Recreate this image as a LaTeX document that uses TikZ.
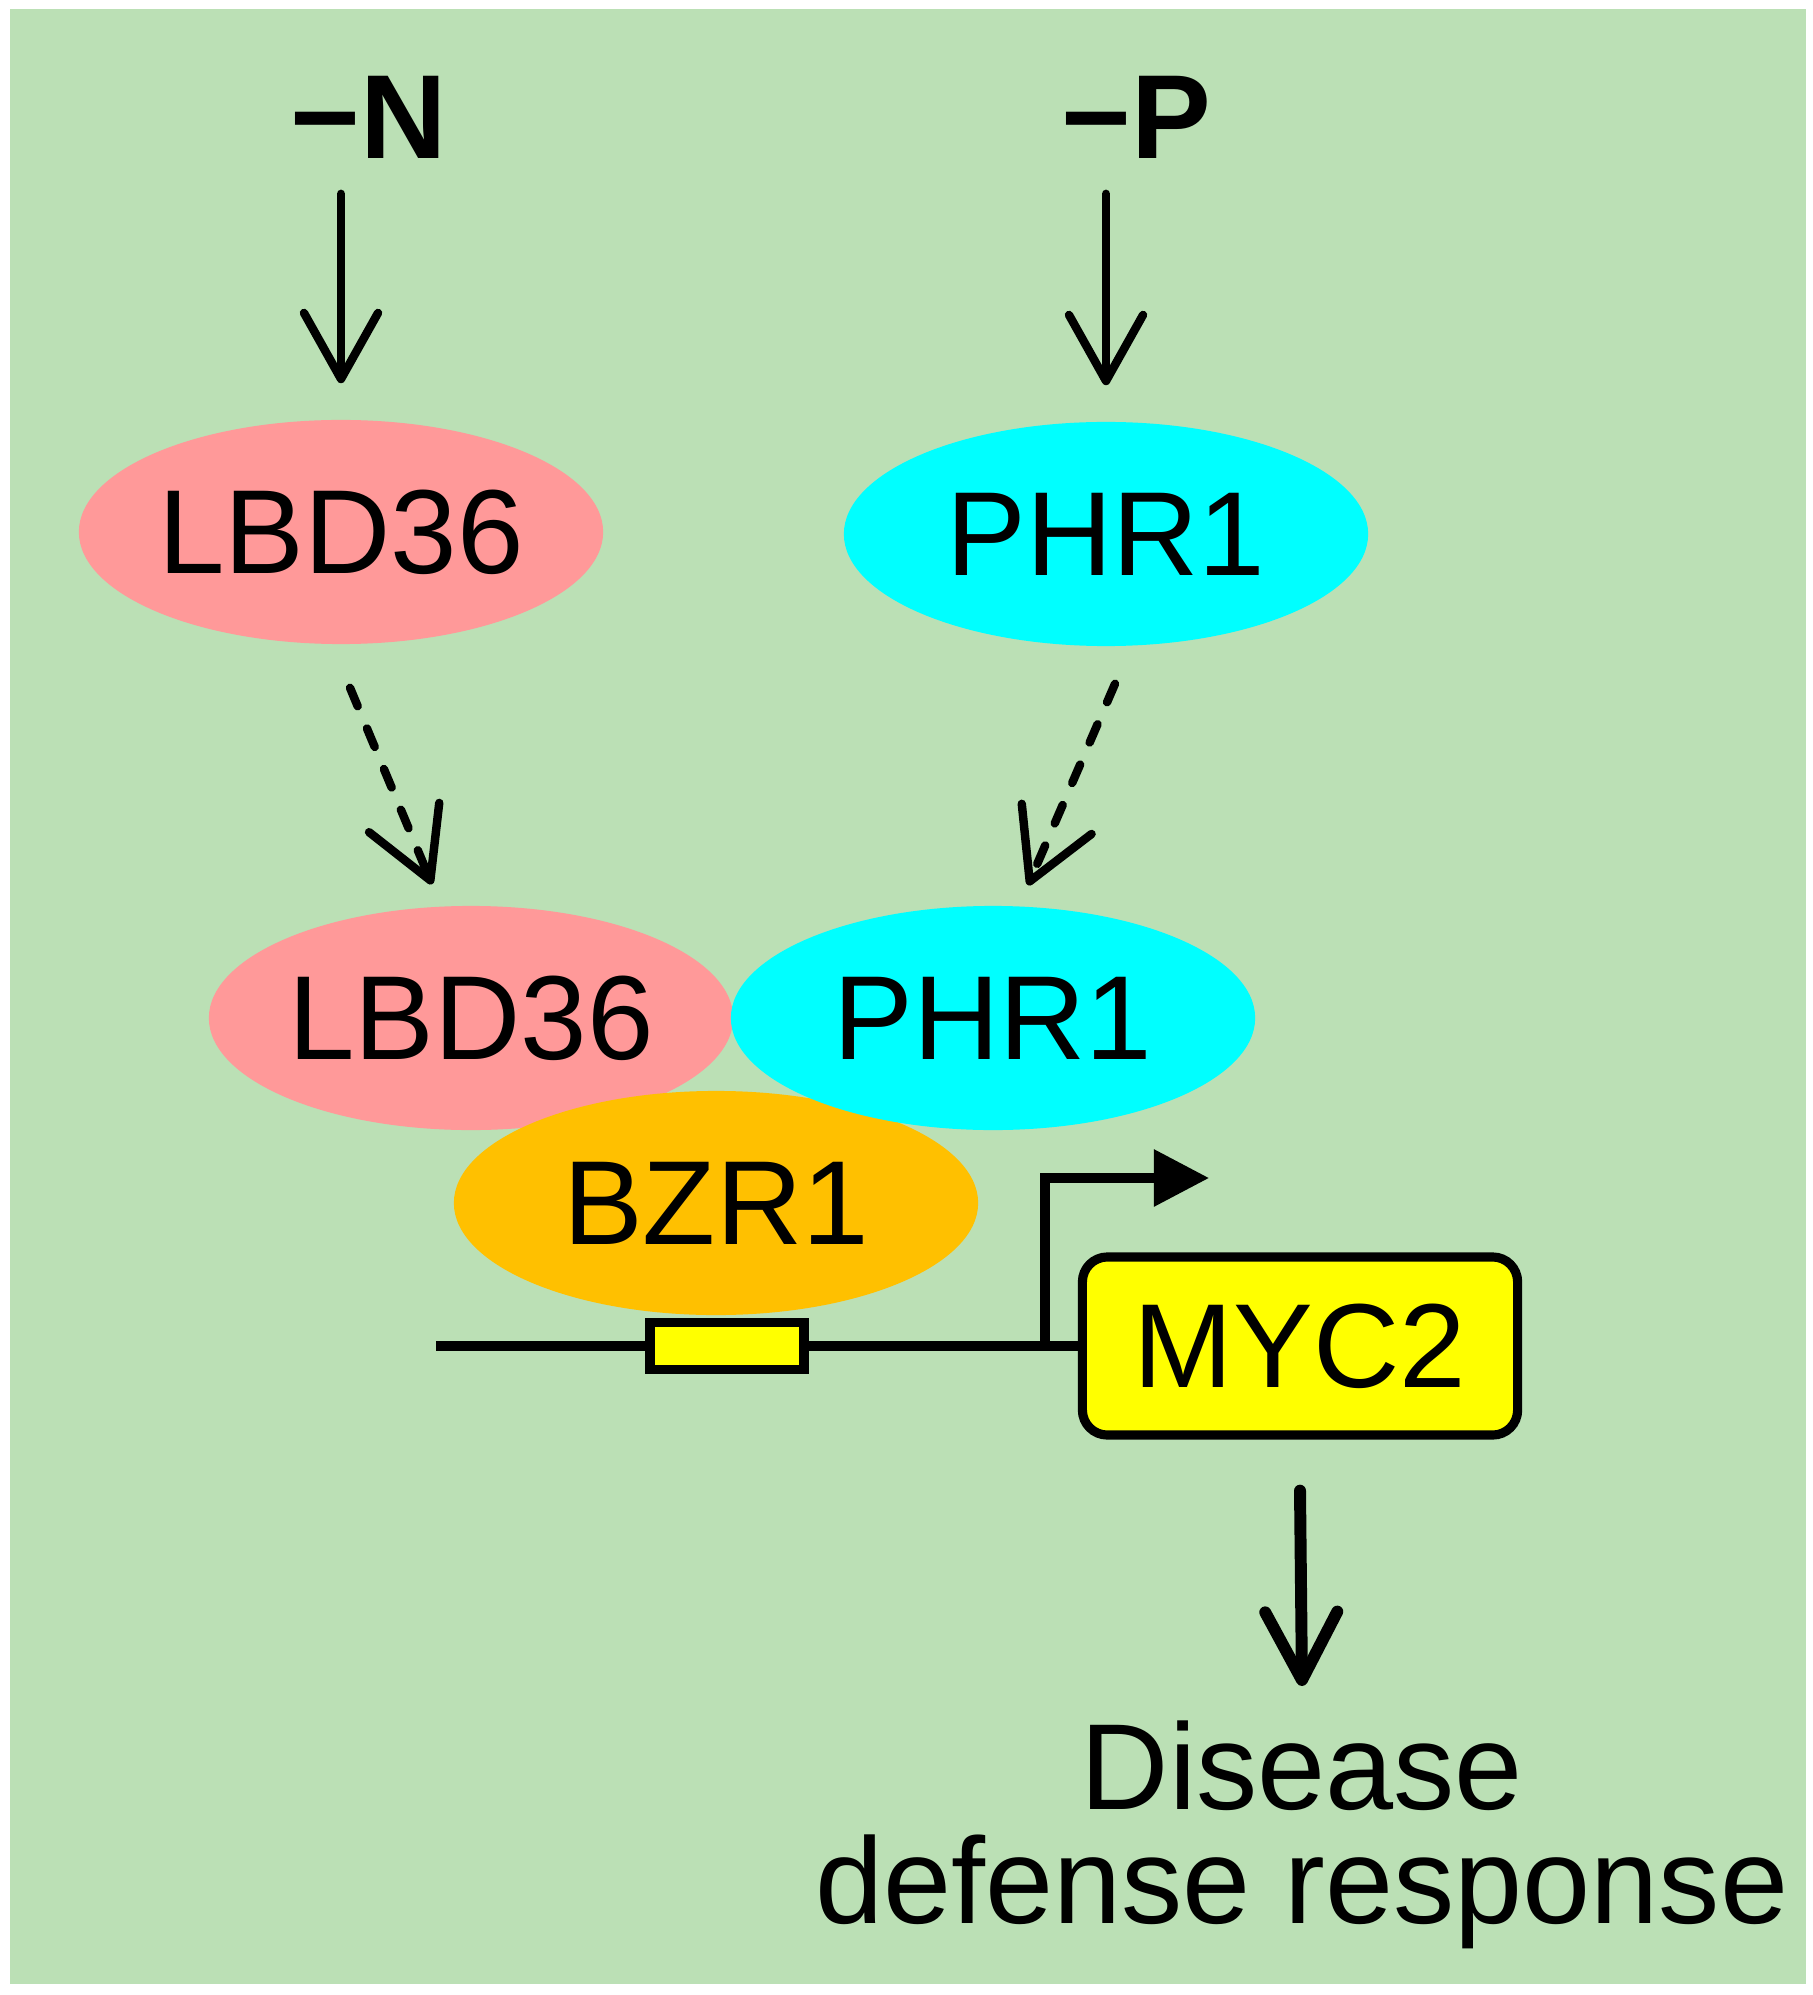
\documentclass[tikz,border=0pt]{standalone}
\usepackage{fontspec}
\setmainfont{Liberation Sans}
\usetikzlibrary{arrows.meta,shapes.geometric}
\definecolor{bgc}{RGB}{187,224,181}
\definecolor{pinkc}{RGB}{255,153,153}
\definecolor{cyanc}{RGB}{0,255,255}
\definecolor{orangec}{RGB}{255,192,0}
\definecolor{yelc}{RGB}{255,255,0}
\begin{document}
\begin{tikzpicture}[x=0.01cm,y=-0.01cm,
  prot/.style={ellipse, inner sep=0pt, minimum width=5.24cm, minimum height=2.24cm, font=\fontsize{34}{40}\selectfont},
  sig/.style={inner sep=0pt, font=\fontsize{34}{40}\selectfont\bfseries},
  act/.style={line width=2.4pt, line cap=round, -{Straight Barb[round,length=0.66cm,width=0.74cm]}},
  dashact/.style={line width=2.4pt, line cap=round, dash pattern=on 0.2cm off 0.24cm, -{Straight Barb[round,length=0.68cm,width=0.76cm]}},
  bigact/.style={line width=3.4pt, line cap=round, -{Straight Barb[round,length=0.68cm,width=0.72cm]}},
  dna/.style={line width=2.6pt},
  prom/.style={line width=2.6pt, -{Triangle[length=0.55cm,width=0.55cm]}},
  gene/.style={draw, line width=2.6pt, fill=yelc, rounded corners=0.25cm, inner sep=0pt, minimum width=4.35cm, minimum height=1.78cm, font=\fontsize{34}{40}\selectfont},
  site/.style={draw, line width=2.6pt, fill=yelc, inner sep=0pt, minimum width=1.54cm, minimum height=0.47cm},
  outtext/.style={inner sep=0pt, align=center, font=\fontsize{34.8}{32.4}\selectfont}
]
\useasboundingbox (0,0) rectangle (1812,1995);
\fill[white] (0,0) rectangle (1812,1995);
\fill[bgc] (10,9) rectangle (1806,1984);

\node[sig] (n) at (369,117) {−N};
\node[sig] (p) at (1136,117) {−P};

\node[prot, fill=pinkc] (l1) at (341,532) {LBD36};
\node[prot, fill=cyanc] (p1) at (1106,534) {PHR1};

\node[prot, fill=pinkc] (l2) at (471,1018) {LBD36};
\node[prot, fill=orangec] (b) at (716,1203) {BZR1};
\node[prot, fill=cyanc] (p2) at (993,1018) {PHR1};

\draw[act] ([yshift=-0.35cm]l1.north |- n.south) -- ([yshift=0.36cm]l1.north);
\draw[act] ([yshift=-0.35cm]p1.north |- p.south) -- ([yshift=0.36cm]p1.north);

\draw[dashact] ([xshift=0.09cm,yshift=-0.43cm]l1.south) -- ([xshift=-0.39cm,yshift=0.21cm]l2.north);
\draw[dashact] ([xshift=0.09cm,yshift=-0.37cm]p1.south) -- ([xshift=0.35cm,yshift=0.20cm]p2.north);

\node[gene] (myc) at (1300,1346) {MYC2};
\coordinate (dnaL) at (436,1346);
\coordinate (tss) at (1045,1346);
\coordinate (tssend) at (1209,1178);
\draw[dna] (dnaL) -- (myc.west);
\node[site] (bs) at (727,1346) {};
\draw[prom] (tss) |- (tssend);

\node[outtext, anchor=north] (resp) at (1302,1720) {Disease\\defense response};
\draw[bigact] ([yshift=-0.51cm]myc.south) -- ([yshift=0.34cm]resp.north);
\end{tikzpicture}
\end{document}
